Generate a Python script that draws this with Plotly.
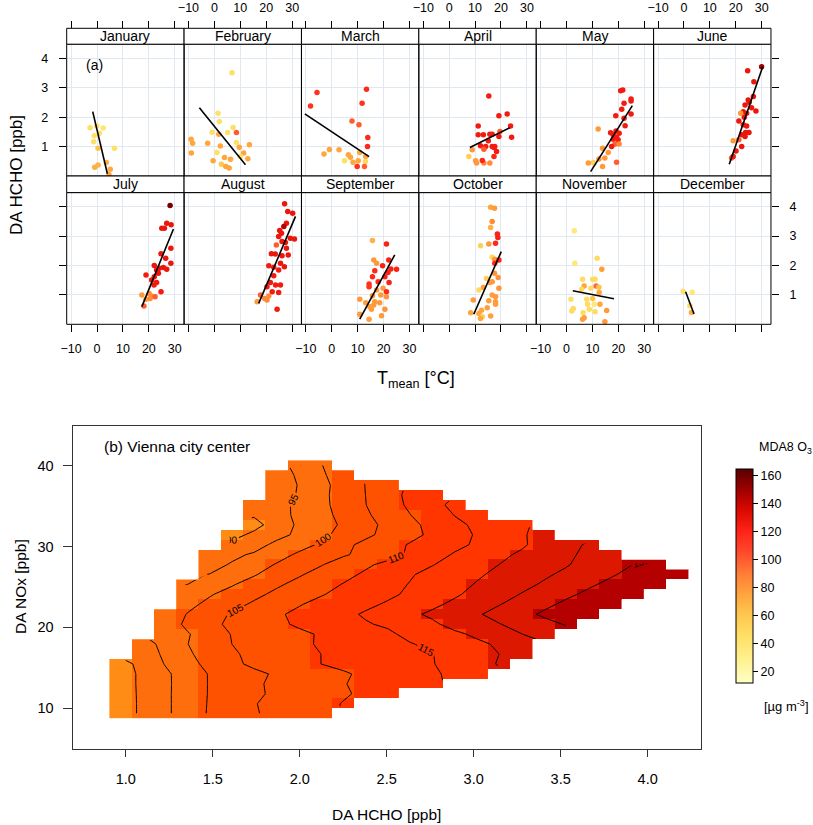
import plotly.graph_objects as go

W, H = 813, 825
def PX(x): return x / W
def PY(y): return 1 - y / H

FONT = "Liberation Sans, Arial, sans-serif"

# ---------------- (a) monthly scatter data ----------------
months = ["January", "February", "March", "April", "May", "June",
          "July", "August", "September", "October", "November", "December"]

t_jan = [-2.7, -0.1, 2.4, -1.05, 0.9, -1.3, 0.4, 6.7, -0.9, 0.4, 3.6, 5.1, 4.6]
h_jan = [1.64, 1.70, 1.63, 1.37, 1.45, 1.16, 0.94, 0.94, 0.30, 0.37, 0.46, 0.23, 0.05]
o_jan = [45, 45, 40, 45, 45, 45, 62, 45, 72, 70, 72, 75, 75]

t_feb = [6.8, 1.4, 1.9, 7.2, -0.9, 1.7, 5.1, 8.5, -9.0, -8.4, -2.6, 2.3, 8.5, 9.6, 13.5, -8.9, 1.0, -0.5, 3.9, 6.2, 11.3, 12.9, 2.7, 4.4, 5.7, 10.0]
h_feb = [3.51, 2.13, 1.85, 1.65, 1.49, 1.42, 1.48, 1.48, 1.25, 1.11, 1.11, 1.02, 1.14, 0.98, 1.06, 0.78, 0.80, 0.52, 0.63, 0.57, 0.78, 0.59, 0.40, 0.32, 0.27, 0.66]
o_feb = [45, 45, 45, 45, 45, 75, 45, 100, 75, 75, 75, 75, 45, 75, 75, 75, 45, 75, 75, 75, 75, 75, 60, 75, 75, 45]

t_mar = [-8.2, -5.7, 13.4, 11.7, 7.8, 10.5, 13.9, 13.8, -3.0, -0.9, 2.8, 6.4, 7.2, 10.8, 4.9, 8.2, 10.2, 13.1, 13.0, 9.8, 12.6]
h_mar = [2.38, 2.84, 2.95, 2.47, 1.87, 1.74, 1.31, 1.00, 0.75, 0.90, 0.89, 0.72, 0.64, 0.80, 0.52, 0.47, 0.52, 0.66, 0.49, 0.32, 0.32]
o_mar = [115, 115, 118, 115, 100, 100, 118, 118, 75, 75, 75, 75, 75, 75, 45, 75, 75, 75, 50, 115, 100]

t_apr = [15.3, 11.2, 19.2, 22.4, 23.7, 11.2, 13.2, 15.7, 16.6, 19.6, 19.2, 24.1, 15.1, 12.1, 14.1, 16.6, 17.6, 8.9, 13.4, 17.3, 18.3, 7.6, 10.2, 10.6, 13.4, 12.8, 15.7, 17.3]
h_apr = [2.72, 1.70, 2.05, 2.11, 1.70, 1.40, 1.40, 1.42, 1.42, 1.51, 1.34, 1.32, 1.20, 1.03, 1.00, 1.00, 1.00, 0.89, 0.91, 0.97, 0.83, 0.66, 0.52, 0.44, 0.44, 0.53, 0.44, 0.66]
o_apr = [125, 125, 125, 125, 125, 125, 125, 125, 125, 100, 125, 125, 125, 125, 125, 125, 125, 80, 100, 125, 125, 55, 80, 80, 85, 120, 85, 120]

t_may = [20.9, 21.7, 24.9, 24.9, 22.2, 21.3, 24.9, 19.0, 22.2, 22.6, 12.2, 17.0, 19.1, 20.3, 19.3, 18.0, 19.9, 18.7, 20.3, 13.9, 17.4, 16.1, 14.8, 12.5, 10.3, 8.4, 13.9, 19.3, 18.0]
h_may = [2.90, 2.92, 2.62, 2.55, 2.47, 2.27, 2.11, 2.05, 1.96, 1.71, 1.60, 1.47, 1.53, 1.45, 1.32, 1.25, 1.23, 1.09, 1.09, 0.94, 1.00, 0.80, 0.61, 0.58, 0.46, 0.44, 0.32, 0.47, 1.40]
o_may = [125, 125, 125, 125, 125, 125, 125, 125, 125, 125, 80, 125, 125, 125, 125, 125, 125, 100, 85, 80, 125, 80, 80, 80, 55, 80, 80, 100, 125]

t_jun = [30.0, 24.6, 27.0, 26.8, 24.8, 25.2, 23.6, 26.1, 27.8, 22.9, 21.9, 24.2, 23.3, 21.2, 22.9, 24.2, 23.8, 25.1, 22.3, 23.6, 21.2, 19.0, 22.3, 20.1, 18.4, 19.0]
h_jun = [3.71, 3.58, 3.20, 2.70, 2.58, 2.51, 2.41, 2.32, 2.21, 2.18, 2.13, 2.13, 2.00, 1.87, 1.74, 1.70, 1.48, 1.48, 1.40, 1.34, 1.23, 1.20, 1.00, 0.85, 0.61, 0.66]
o_jun = [150, 128, 128, 128, 128, 128, 128, 128, 128, 128, 80, 128, 128, 128, 128, 128, 128, 128, 128, 128, 100, 80, 128, 128, 100, 125]

t_jul = [28.2, 26.9, 28.6, 25.0, 26.0, 28.5, 24.7, 26.5, 28.5, 22.1, 24.0, 23.0, 25.6, 26.9, 18.9, 22.1, 23.7, 21.1, 22.0, 23.0, 24.7, 17.3, 20.1, 21.1, 22.4, 18.9, 20.5, 18.1]
h_jul = [4.04, 3.44, 3.39, 3.27, 3.27, 2.59, 2.40, 2.25, 2.08, 2.00, 1.91, 1.85, 1.93, 1.87, 1.68, 1.62, 1.74, 1.51, 1.34, 1.42, 1.11, 1.00, 1.05, 0.96, 0.94, 0.85, 0.88, 0.62]
o_jul = [160, 128, 128, 128, 128, 128, 128, 128, 128, 128, 128, 128, 128, 128, 125, 125, 128, 125, 125, 125, 125, 80, 85, 85, 100, 80, 85, 100]

t_aug = [27.1, 28.3, 30.2, 27.8, 26.8, 25.2, 25.9, 24.8, 29.3, 30.9, 26.1, 27.4, 23.9, 27.8, 22.0, 23.5, 26.1, 28.5, 25.5, 21.0, 22.9, 27.0, 24.8, 22.9, 21.6, 25.5, 23.6, 20.3, 22.3, 24.8, 17.8, 21.0, 19.4, 16.5, 20.3, 24.2]
h_aug = [4.10, 3.84, 3.78, 3.44, 3.33, 3.19, 3.10, 2.99, 2.93, 2.90, 2.82, 2.78, 2.70, 2.59, 2.40, 2.39, 2.33, 2.36, 2.08, 1.99, 1.94, 1.96, 1.85, 1.65, 1.42, 1.34, 1.34, 1.28, 1.11, 1.08, 1.00, 0.96, 0.88, 0.77, 0.83, 0.51]
o_aug = [128, 128, 128, 128, 145, 128, 128, 128, 128, 128, 128, 128, 100, 128, 128, 128, 128, 128, 128, 125, 125, 128, 125, 125, 125, 125, 125, 125, 125, 125, 100, 85, 85, 80, 85, 125]

t_sep = [15.7, 21.1, 16.2, 17.3, 22.0, 19.6, 22.8, 25.0, 16.6, 21.7, 15.7, 20.5, 17.9, 14.4, 22.1, 14.4, 19.8, 17.3, 21.1, 18.9, 15.7, 21.1, 10.8, 13.1, 16.6, 18.5, 14.7, 16.2, 20.5, 10.8, 14.4, 19.2, 15.3]
h_sep = [2.85, 2.73, 2.19, 2.08, 2.19, 1.99, 1.88, 1.87, 1.82, 1.76, 1.62, 1.62, 1.45, 1.37, 1.42, 1.28, 1.23, 1.17, 1.11, 1.00, 0.97, 0.94, 0.85, 0.73, 0.77, 0.73, 0.60, 0.66, 0.51, 0.34, 0.17, 0.29, 0.51]
o_sep = [70, 122, 80, 80, 122, 122, 122, 122, 118, 122, 118, 122, 118, 115, 122, 115, 80, 80, 118, 80, 80, 82, 80, 78, 80, 80, 78, 80, 82, 80, 78, 80, 78]

t_oct = [16.0, 17.5, 16.6, 16.0, 18.6, 18.8, 12.1, 15.3, 17.9, 16.6, 17.6, 19.2, 17.6, 17.5, 18.9, 14.4, 15.7, 13.2, 16.6, 11.5, 19.2, 16.6, 17.9, 15.3, 17.9, 9.3, 17.9, 14.7, 12.5, 8.3, 11.5, 12.8, 16.0, 12.1]
h_oct = [3.98, 3.95, 3.50, 3.29, 3.07, 2.95, 2.67, 2.73, 2.76, 2.28, 2.21, 2.19, 2.08, 1.74, 1.59, 1.56, 1.42, 1.25, 1.45, 1.17, 1.23, 1.00, 0.94, 0.80, 0.77, 0.83, 0.68, 0.56, 0.48, 0.39, 0.37, 0.26, 0.28, 0.20]
o_oct = [75, 80, 85, 70, 122, 122, 55, 80, 118, 50, 80, 120, 118, 82, 82, 55, 80, 78, 80, 50, 82, 78, 80, 78, 80, 80, 78, 78, 75, 75, 75, 55, 78, 75]

t_nov = [3.0, 3.2, 11.8, 13.6, 6.2, 10.1, 11.0, 6.8, 9.4, 11.4, 12.5, 12.6, 5.8, 1.7, 7.8, 10.1, 8.1, 10.7, 12.9, 2.6, 2.0, 8.8, 11.0, 15.5, 6.4, 6.8, 6.2, 14.8]
h_nov = [3.18, 2.08, 2.25, 1.87, 1.53, 1.53, 1.53, 1.30, 1.23, 1.30, 1.26, 1.08, 1.19, 0.85, 0.85, 0.88, 0.68, 0.68, 0.68, 0.54, 0.45, 0.51, 0.43, 0.47, 0.39, 0.22, 0.17, 0.09]
o_nov = [38, 38, 48, 78, 48, 48, 48, 75, 48, 95, 62, 75, 48, 45, 48, 62, 48, 38, 75, 48, 48, 48, 48, 80, 48, 78, 78, 80]

t_dec = [-0.3, 3.2, 2.3, 2.9]
h_dec = [1.12, 1.09, 0.63, 0.40]
o_dec = [45, 38, 48, 72]

T_ALL = [t_jan, t_feb, t_mar, t_apr, t_may, t_jun, t_jul, t_aug, t_sep, t_oct, t_nov, t_dec]
H_ALL = [h_jan, h_feb, h_mar, h_apr, h_may, h_jun, h_jul, h_aug, h_sep, h_oct, h_nov, h_dec]
O_ALL = [o_jan, o_feb, o_mar, o_apr, o_may, o_jun, o_jul, o_aug, o_sep, o_oct, o_nov, o_dec]

# regression line end points per month (Tmean, HCHO)
reg_t0 = [-1.66, -5.8, -10.4, 8.0, 9.3, 17.5, 17.3, 17.1, 10.8, 9.5, 2.4, 0.66]
reg_h0 = [2.19, 2.32, 2.11, 0.97, 0.15, 0.40, 0.60, 0.71, 0.18, 0.34, 1.14, 1.11]
reg_t1 = [4.0, 12.0, 14.4, 23.4, 25.4, 30.4, 29.5, 31.3, 24.3, 20.1, 18.3, 3.9]
reg_h1 = [0.075, 0.38, 0.66, 1.64, 2.39, 3.71, 3.24, 3.67, 2.36, 2.47, 0.87, 0.35]

t_ticks = [-10, 0, 10, 20, 30]
h_ticks = [1, 2, 3, 4]

# ---------------- (b) gridded MDA8 O3 ----------------
hcho_grid = [0.970, 1.098, 1.226, 1.354, 1.482, 1.610, 1.738, 1.866, 1.994, 2.122, 2.250, 2.378, 2.506,
             2.634, 2.762, 2.890, 3.018, 3.146, 3.274, 3.402, 3.530, 3.658, 3.786, 3.914, 4.042, 4.170]
nox_grid = [9.330, 10.559, 11.788, 13.017, 14.246, 15.475, 16.704, 17.933, 19.162, 20.391, 21.620, 22.849, 24.078,
            25.307, 26.536, 27.765, 28.994, 30.223, 31.452, 32.681, 33.910, 35.139, 36.368, 37.597, 38.826, 40.055]
N = None
o3_grid = [
    [87.7, 90.9, 94.1, 97.3, 100.5, 102.5, 104.6, 106.2, 107.6, 109.0] + [N] * 16,
    [87.7, 90.9, 94.1, 97.3, 100.4, 102.6, 104.8, 106.2, 107.5, 108.8, 110.2] + [N] * 15,
    [87.6, 91.0, 94.1, 97.3, 100.3, 102.3, 104.2, 105.8, 107.0, 108.3, 109.5, 110.8, 112.0] + [N] * 13,
    [87.6, 91.1, 94.1, 97.2, 100.3, 102.3, 104.3, 105.9, 107.2, 108.5, 109.8, 111.0, 112.2, 113.3, 114.3] + [N] * 11,
    [87.6, 91.1, 94.1, 97.3, 100.3, 102.1, 103.9, 105.6, 106.9, 108.2, 109.5, 110.8, 112.0, 113.2, 114.6, 115.6, 117.0] + [N] * 9,
    [88.0, 91.6, 95.2, 98.3, 101.4, 103.9, 106.0, 107.3, 108.6, 110.0, 111.0, 111.9, 112.9, 113.8, 114.8, 116.5, 118.4, 120.3] + [N] * 8,
    [N, 92.5, 95.8, 99.3, 101.9, 104.4, 106.1, 107.4, 108.7, 110.0, 111.0, 111.9, 112.9, 113.8, 114.9, 116.5, 118.3, 120.0, 121.5] + [N] * 7,
    [N, 93.0, 96.4, 99.9, 102.5, 105.0, 106.4, 107.8, 109.2, 110.4, 111.5, 112.6, 113.7, 114.7, 116.1, 117.6, 119.1, 120.6, 122.0] + [N] * 7,
    [N, N, 96.8, 99.6, 102.5, 105.2, 106.5, 107.8, 109.1, 110.4, 111.8, 112.6, 114.1, 116.3, 117.7, 119.1, 120.8, 122.9, 124.9, 126.8] + [N] * 6,
    [N, N, 97.5, 100.9, 103.7, 106.0, 107.5, 109.1, 110.6, 112.0, 113.3, 114.6, 115.7, 117.5, 119.2, 121.5, 123.5, 124.8, 126.6, 128.5, 130.3] + [N] * 5,
    [N, N, 96.9, 100.2, 102.9, 105.5, 107.4, 109.4, 110.9, 112.4, 113.9, 115.5, 117.3, 119.1, 120.8, 122.7, 124.5, 126.5, 128.6, 130.7, 132.0, 133.0] + [N] * 4,
    [N] * 3 + [98.8, 101.1, 103.5, 105.7, 107.7, 109.7, 111.2, 112.6, 114.1, 115.5, 117.3, 119.1, 120.9, 122.8, 124.8, 126.8, 128.9, 130.9, 132.5, 133.5] + [N] * 3,
    [N] * 3 + [97.2, 99.6, 101.7, 103.9, 106.0, 107.8, 109.7, 111.2, 112.7, 114.2, 115.7, 117.5, 119.4, 121.3, 123.3, 125.2, 127.1, 129.1, 130.9, 132.5, 133.5] + [N] * 2,
    [N] * 3 + [95.0, 97.3, 99.6, 102.0, 104.3, 106.3, 108.3, 110.2, 112.0, 113.6, 115.2, 117.0, 118.6, 120.3, 122.0, 123.8, 125.5, 127.4, 129.3, 131.0, 132.5, 133.8] + [N],
    [N] * 4 + [95.1, 97.2, 99.6, 102.3, 104.5, 106.6, 108.7, 110.7, 112.7, 114.6, 116.3, 117.8, 119.4, 121.0, 122.6, 124.3, 125.9, 127.7, 129.5, 131.2, 132.5, 133.5],
    [N] * 4 + [93.5, 95.4, 97.9, 100.3, 102.5, 104.7, 107.0, 109.2, 111.2, 112.7, 114.8, 116.6, 118.4, 120.0, 121.6, 123.3, 124.6, 126.6, 128.3, 130.0, 131.5] + [N],
    [N] * 4 + [92.5, 94.0, 95.6, 98.2, 100.7, 102.6, 104.5, 106.2, 108.2, 110.7, 113.2, 115.4, 117.2, 119.0, 120.7, 122.4, 124.1, 126.0, 127.5] + [N] * 3,
    [N] * 5 + [91.0, 93.0, 96.2, 98.3, 100.6, 103.8, 106.2, 108.1, 110.4, 112.1, 113.9, 115.6, 117.3, 119.3, 121.8, 123.6, 125.5] + [N] * 4,
    [N] * 5 + [88.5, 91.0, 93.4, 96.0, 98.8, 101.6, 104.0, 106.4, 108.5, 111.0, 113.3, 115.4, 117.1, 119.5, 121.5] + [N] * 6,
    [N] * 6 + [88.5, 92.0, 95.8, 98.3, 100.6, 103.5, 106.2, 108.7, 111.5, 114.2, 115.6, 117.5, 119.5] + [N] * 7,
    [N] * 6 + [90.5, 93.2, 96.0, 98.5, 101.3, 104.3, 107.1, 109.9, 112.9, 115.1, 116.8] + [N] * 9,
    [N] * 6 + [91.0, 93.3, 96.0, 98.7, 101.9, 104.9, 107.9, 110.8, 113.7, 116.0] + [N] * 10,
    [N] * 7 + [92.5, 95.4, 98.8, 102.0, 105.0, 108.0, 111.2, 113.5] + [N] * 11,
    [N] * 7 + [92.4, 95.2, 98.6, 101.9, 105.1, 108.2] + [N] * 13,
    [N] * 7 + [92.8, 95.6, 99.1, 102.8] + [N] * 15,
    [N] * 8 + [95.9, 99.8] + [N] * 16,
]
cbar_ticks = [20, 40, 60, 80, 100, 120, 140, 160]

# ---------------- styles ----------------
O3_MIN, O3_MAX = 12, 165
def nz(v): return (v - O3_MIN) / (O3_MAX - O3_MIN)
cont_cs = [
    [0.0, "#FFFFC4"], [nz(30), "#FFF08C"], [nz(45), "#FFE066"], [nz(60), "#FFC850"],
    [nz(75), "#FFA63C"], [nz(90), "#FF7E36"], [nz(105), "#FF4B2C"], [nz(120), "#FF2418"],
    [nz(135), "#DC0A00"], [nz(150), "#A00000"], [1.0, "#5A0000"],
]
bins = ["#FF8C14", "#FF6E0C", "#FF5200", "#FF3600", "#DC1800", "#B40000"]
bin_cs = []
for b, c in enumerate(bins):
    bin_cs.append([b / 6, c]); bin_cs.append([(b + 1) / 6, c])

GRID = "#E2E8F0"
E = [66.7 + 117.38 * i for i in range(7)]
ROWS = {0: (28.3, 44.2, 176.0), 1: (176.0, 192.6, 324.3)}  # strip top, plot top, plot bottom
XR = [-11.7, 33.6]
YR = [0.0, 4.48]

fig = go.Figure()
layout = dict(width=W, height=H, margin=dict(l=0, r=0, t=0, b=0, autoexpand=False),
              paper_bgcolor="white", plot_bgcolor="white", showlegend=False,
              font=dict(family=FONT, color="black"))
shapes, annos = [], []

def anno(text, x, y, size, xa="center", ya="middle", angle=0):
    return dict(text=text, x=PX(x), y=PY(y), xref="paper", yref="paper", showarrow=False,
                xanchor=xa, yanchor=ya, textangle=angle, font=dict(size=size, family=FONT, color="black"))

for k in range(12):
    r, c = divmod(k, 6)
    st, pt, pb = ROWS[r]
    ax = "" if k == 0 else str(k + 1)
    xa = dict(domain=[PX(E[c]), PX(E[c + 1])], range=XR, tickvals=t_ticks, ticks="outside", ticklen=7,
              tickcolor="black", showgrid=True, gridcolor=GRID, zeroline=False, showline=False,
              tickfont=dict(size=12.5, family=FONT))
    if r == 0:
        xa.update(side="top", anchor="free", position=PY(st), showticklabels=(c % 2 == 1),
                  ticklabelstandoff=4)
    else:
        xa.update(side="bottom", anchor="y" + ax, showticklabels=(c % 2 == 0), ticklabelstandoff=6)
    ya = dict(domain=[PY(pb), PY(pt)], range=YR, tickvals=h_ticks, anchor="x" + ax, showgrid=True,
              gridcolor=GRID, zeroline=False, showline=False, tickfont=dict(size=12.5, family=FONT),
              ticklen=7, tickcolor="black", ticklabelstandoff=8)
    if c == 0:
        ya.update(side="left", ticks="outside", showticklabels=(r == 0))
    elif c == 5:
        ya.update(side="right", ticks="outside", showticklabels=(r == 1))
    else:
        ya.update(ticks="", showticklabels=False)
    layout["xaxis" + ax] = xa
    layout["yaxis" + ax] = ya

    marker = dict(size=5.5, color=O_ALL[k], colorscale=cont_cs, cmin=O3_MIN, cmax=O3_MAX, line=dict(width=0))
    if k == 6:
        marker.update(showscale=True, colorbar=dict(
            x=PX(736), xanchor="left", y=PY(576), yanchor="middle", len=214 / H, lenmode="fraction",
            thickness=16.7, thicknessmode="pixels", outlinewidth=1, outlinecolor="black",
            tickvals=cbar_ticks, ticks="outside", ticklen=5, tickcolor="black",
            tickfont=dict(size=12.5, family=FONT), xpad=0, ypad=0))
    fig.add_trace(go.Scatter(x=T_ALL[k], y=H_ALL[k], mode="markers", marker=marker,
                             xaxis="x" + ax, yaxis="y" + ax, hoverinfo="skip"))
    fig.add_trace(go.Scatter(x=[reg_t0[k], reg_t1[k]], y=[reg_h0[k], reg_h1[k]], mode="lines",
                             line=dict(color="black", width=1.6), xaxis="x" + ax, yaxis="y" + ax,
                             hoverinfo="skip"))
    shapes.append(dict(type="rect", xref="paper", yref="paper", x0=PX(E[c]), x1=PX(E[c + 1]),
                       y0=PY(pb), y1=PY(pt), line=dict(color="black", width=1), layer="above"))
    shapes.append(dict(type="rect", xref="paper", yref="paper", x0=PX(E[c]), x1=PX(E[c + 1]),
                       y0=PY(pt), y1=PY(st), line=dict(color="black", width=1), fillcolor="white",
                       layer="above"))
    annos.append(anno(months[k], (E[c] + E[c + 1]) / 2, (st + pt) / 2, 14))

annos += [
    anno("(a)", 94, 65, 14),
    anno("DA HCHO [ppb]", 16, 175, 17, angle=-90),
    anno("T<sub>mean</sub> [°C]", 416, 379, 18),
]

# ---------------- (b) heatmap + contours ----------------
fig.add_trace(go.Heatmap(x=hcho_grid, y=nox_grid, z=o3_grid, colorscale=bin_cs, zmin=80, zmax=140,
                         showscale=False, xaxis="x13", yaxis="y13", hoverinfo="skip", zsmooth=False))
fig.add_trace(go.Contour(x=hcho_grid, y=nox_grid, z=o3_grid, xaxis="x13", yaxis="y13",
                         contours=dict(start=90, end=130, size=5, coloring="none", showlabels=True,
                                       labelfont=dict(size=10, color="black", family=FONT)),
                         line=dict(color="black", width=1, smoothing=0), showscale=False,
                         hoverinfo="skip"))

# white masks outside the gridded area (derived from the grid)
def edges(c):
    m = [(c[i] + c[i + 1]) / 2 for i in range(len(c) - 1)]
    return [c[0] - (m[0] - c[0])] + m + [c[-1] + (c[-1] - m[-1])]
xe, ye = edges(hcho_grid), edges(nox_grid)
tx, ty, bx, by = [], [], [], []
for i in range(len(hcho_grid)):
    rows = [j for j in range(len(nox_grid)) if o3_grid[j][i] is not None]
    tx += [xe[i], xe[i + 1]]; ty += [ye[max(rows) + 1]] * 2
    bx += [xe[i], xe[i + 1]]; by += [ye[min(rows)]] * 2
YT, YB = 60, -10
for xs, ys, yl in ((tx, ty, YT), (bx, by, YB)):
    fig.add_trace(go.Scatter(x=[xs[0]] + xs + [xs[-1]], y=[yl] + ys + [yl], mode="lines", fill="toself",
                             fillcolor="white", line=dict(width=0, color="white"), xaxis="x13",
                             yaxis="y13", hoverinfo="skip"))

layout["xaxis13"] = dict(domain=[PX(72.7), PX(700.7)], range=[0.695, 4.305], anchor="y13",
                         tickvals=[1.0, 1.5, 2.0, 2.5, 3.0, 3.5, 4.0], tickformat=".1f", ticks="outside",
                         ticklen=7, tickcolor="#333", showline=True, mirror=True, linecolor="#333",
                         linewidth=1.2, showgrid=False, zeroline=False, tickfont=dict(size=14.5, family=FONT),
                         ticklabelstandoff=10)
layout["yaxis13"] = dict(domain=[PY(748.7), PY(425.7)], range=[5.0, 44.94], anchor="x13",
                         tickvals=[10, 20, 30, 40], ticks="outside", ticklen=9, tickcolor="#333",
                         showline=True, mirror=True, linecolor="#333", linewidth=1.2, showgrid=False,
                         zeroline=False, tickfont=dict(size=14.5, family=FONT), ticklabelstandoff=6)

annos += [
    anno("(b) Vienna city center", 101.7, 446, 15.5, xa="left"),
    anno("DA HCHO [ppb]", 386.7, 814, 15.5),
    anno("DA NOx [ppb]", 20, 587, 15.5, angle=-90),
    anno("MDA8 O<sub>3</sub>", 757, 448, 12.5, xa="left"),
    anno("[µg m<sup>-3</sup>]", 762, 706, 13, xa="left"),
]

layout["shapes"] = shapes
layout["annotations"] = annos
fig.update_layout(**layout)
fig.write_html("out.html", config={"displayModeBar": False},
               post_script="document.body.style.margin='0';document.body.style.overflow='hidden';")
